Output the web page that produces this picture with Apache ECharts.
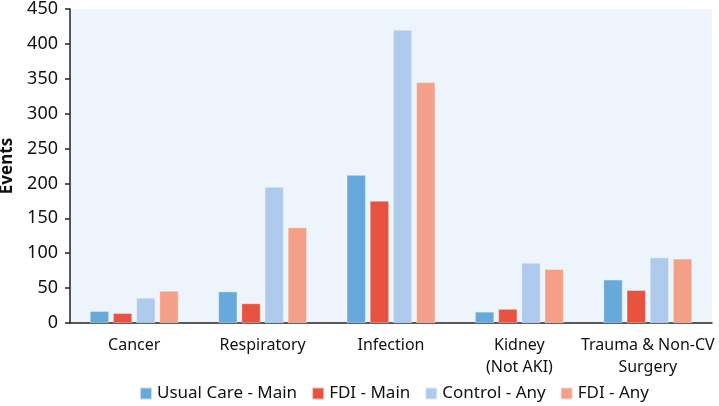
<!DOCTYPE html>
<html><head><meta charset="utf-8">
<script src="https://cdn.jsdelivr.net/npm/echarts@6/dist/echarts.min.js"></script>
<style>html,body{margin:0;padding:0;background:#fff}#c{width:719px;height:406px}</style>
</head><body><div id="c"></div>
<script>
const categories = ['Cancer', 'Respiratory', 'Infection', 'Kidney\n(Not AKI)', 'Trauma & Non-CV\nSurgery'];
const usualCareMain = [17, 45, 212, 16, 62];
const fdiMain = [14, 28, 175, 20, 47];
const controlAny = [36, 195, 420, 86, 94];
const fdiAny = [46, 137, 345, 77, 92];
const yTicks = [0, 50, 100, 150, 200, 250, 300, 350, 400, 450];

const FONT = 'Noto Sans';
const chart = echarts.init(document.getElementById('c'), null, {renderer: 'canvas'});
function s(name, data, color) {
  return {name, type: 'bar', data, barWidth: 19, barGap: '22%',
    itemStyle: {color, borderColor: 'rgba(255,255,255,0.6)', borderWidth: 0.6}};
}
chart.setOption({
  animation: false,
  textStyle: {fontFamily: FONT},
  grid: {left: 70, right: 7, top: 9, bottom: 83, containLabel: false, outerBoundsMode: 'none',
    show: true, backgroundColor: '#EEF4FB', borderWidth: 0},
  legend: {top: 380, left: 134, itemWidth: 12, itemHeight: 12, itemGap: 14,
    icon: 'rect', textStyle: {fontSize: 17, color: '#111', fontFamily: FONT}},
  xAxis: {type: 'category', data: categories,
    axisLine: {lineStyle: {color: '#222', width: 1.5}},
    axisTick: {alignWithLabel: true, length: 5, lineStyle: {color: '#222', width: 1.5}},
    axisLabel: {interval: 0, fontSize: 16, color: '#111', margin: 11, lineHeight: 22, fontFamily: FONT}},
  yAxis: {type: 'value', min: yTicks[0], max: yTicks[yTicks.length - 1], interval: 50,
    name: 'Events', nameLocation: 'middle', nameGap: 54, nameRotate: 90,
    nameTextStyle: {fontSize: 17, fontWeight: 'bold', color: '#111', fontFamily: FONT},
    axisLine: {show: true, lineStyle: {color: '#222', width: 1.5}},
    axisTick: {show: true, length: 5, lineStyle: {color: '#222', width: 1.5}},
    splitLine: {show: false},
    axisLabel: {fontSize: 18, color: '#111', margin: 12, fontFamily: FONT}},
  series: [
    s('Usual Care - Main', usualCareMain, '#68A9DC'),
    s('FDI - Main', fdiMain, '#E8533F'),
    s('Control - Any', controlAny, '#AECBED'),
    s('FDI - Any', fdiAny, '#F4A088')
  ]
});
</script></body></html>
